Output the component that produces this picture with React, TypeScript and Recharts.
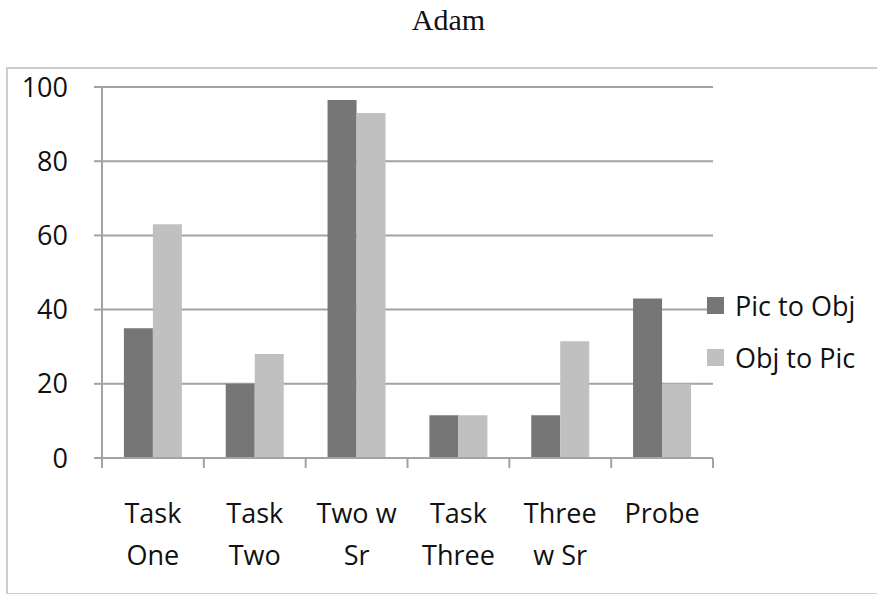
import { BarChart, Bar, XAxis, YAxis, CartesianGrid } from 'recharts';

const categories = ['Task One', 'Task Two', 'Two w Sr', 'Task Three', 'Three w Sr', 'Probe'];
const tickLabelLines = [
  ['Task', 'One'],
  ['Task', 'Two'],
  ['Two w', 'Sr'],
  ['Task', 'Three'],
  ['Three', 'w Sr'],
  ['Probe'],
];
const picToObj = [35, 20, 96.5, 11.5, 11.5, 43];
const objToPic = [63, 28, 93, 11.5, 31.5, 20];
const yTicks = [0, 20, 40, 60, 80, 100];

const data = categories.map((name, i) => ({
  name,
  picToObj: picToObj[i],
  objToPic: objToPic[i],
}));

const W = 877;
const H = 594;
const MARGIN = { top: 87, right: 164, bottom: 0, left: 0 };
const Y_AXIS_W = 102;
const X_AXIS_H = 136;
const PLOT_W = W - MARGIN.right - Y_AXIS_W;
const PLOT_BOTTOM = H - X_AXIS_H;
const BAND = PLOT_W / categories.length;

const FONT = '"Open Sans", Lato, sans-serif';
const AXIS_GREY = '#a3a3a3';
const DARK = '#767676';
const LIGHT = '#c0c0c0';

function CategoryTick(props: any) {
  const { x, payload } = props;
  const idx = payload.index ?? categories.indexOf(payload.value);
  const lines = tickLabelLines[idx] ?? [payload.value];
  const left = x - BAND / 2;
  const right = x + BAND / 2;
  return (
    <g>
      <line x1={left} x2={left} y1={PLOT_BOTTOM} y2={PLOT_BOTTOM + 10} stroke={AXIS_GREY} strokeWidth={2} />
      {idx === categories.length - 1 && (
        <line x1={right} x2={right} y1={PLOT_BOTTOM} y2={PLOT_BOTTOM + 10} stroke={AXIS_GREY} strokeWidth={2} />
      )}
      {lines.map((t: string, i: number) => (
        <text
          key={i}
          x={x}
          y={PLOT_BOTTOM + 65 + i * 42}
          textAnchor="middle"
          fontSize={27}
          fontFamily={FONT}
          fill="#111"
        >
          {t}
        </text>
      ))}
    </g>
  );
}

const legendItems = [
  { label: 'Pic to Obj', color: DARK },
  { label: 'Obj to Pic', color: LIGHT },
];

function SideLegend() {
  return (
    <div style={{ position: 'absolute', left: 707, top: 279, fontFamily: FONT, fontSize: 27, color: '#111' }}>
      {legendItems.map((it) => (
        <div key={it.label} style={{ display: 'flex', alignItems: 'center', height: 52 }}>
          <span style={{ width: 17, height: 17, background: it.color, marginRight: 11, display: 'inline-block' }} />
          <span>{it.label}</span>
        </div>
      ))}
    </div>
  );
}

export default function App() {
  return (
    <div style={{ position: 'fixed', left: 0, top: 0, width: W, height: H, background: '#fff', overflow: 'hidden' }}>
      <div
        style={{
          position: 'absolute',
          left: 0,
          width: W,
          top: 3,
          textAlign: 'center',
          fontFamily: '"Liberation Serif", "Times New Roman", serif',
          fontSize: 30,
          color: '#111',
          paddingLeft: 10,
        }}
      >
        Adam
      </div>
      <div
        style={{
          position: 'absolute',
          left: 6,
          top: 67,
          width: W + 20,
          height: 524,
          border: '2px solid #cdcdcd',
        }}
      />
      <div style={{ position: 'absolute', left: 0, top: 0 }}>
        <BarChart width={W} height={H} data={data} margin={MARGIN} barCategoryGap="21.5%" barGap={0}>
          <CartesianGrid vertical={false} stroke={AXIS_GREY} strokeWidth={2} />
          <XAxis
            dataKey="name"
            height={X_AXIS_H}
            axisLine={{ stroke: AXIS_GREY, strokeWidth: 2 }}
            tickLine={false}
            interval={0}
            tick={<CategoryTick />}
          />
          <YAxis
            width={Y_AXIS_W}
            domain={[0, 100]}
            ticks={yTicks}
            interval={0}
            axisLine={{ stroke: AXIS_GREY, strokeWidth: 2 }}
            tickLine={{ stroke: AXIS_GREY, strokeWidth: 2 }}
            tickSize={8}
            tickMargin={26}
            tick={{ fontSize: 27, fontFamily: FONT, fill: '#111' }}
          />
          <Bar dataKey="picToObj" name="Pic to Obj" fill={DARK} isAnimationActive={false} />
          <Bar dataKey="objToPic" name="Obj to Pic" fill={LIGHT} isAnimationActive={false} />
        </BarChart>
      </div>
      <SideLegend />
    </div>
  );
}
